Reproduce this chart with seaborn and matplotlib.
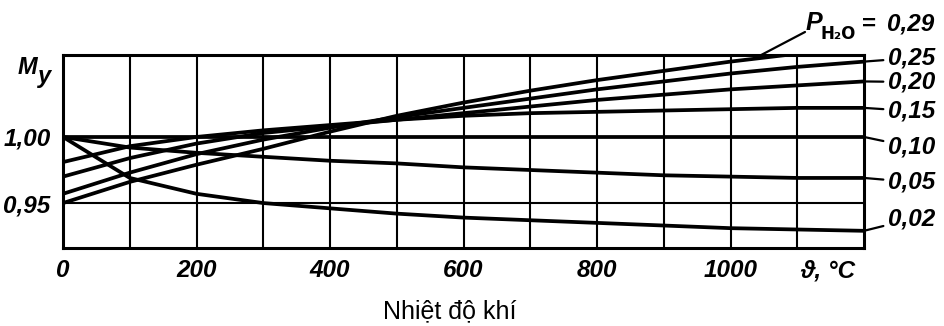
import numpy as np
import pandas as pd
import matplotlib
matplotlib.use("Agg")
import matplotlib.pyplot as plt
import seaborn as sns

# ---- data ----
temperature = [0, 100, 200, 300, 400, 500, 600, 700, 800, 900, 1000, 1100, 1200]
p_labels = ["0,02", "0,05", "0,10", "0,15", "0,20", "0,25", "0,29"]
my_002 = [1.000, 0.969, 0.957, 0.950, 0.946, 0.942, 0.939, 0.937, 0.935, 0.933, 0.931, 0.930, 0.929]
my_005 = [1.000, 0.992, 0.988, 0.985, 0.982, 0.980, 0.977, 0.975, 0.973, 0.971, 0.970, 0.969, 0.969]
my_010 = [1.000, 1.000, 1.000, 1.000, 1.000, 1.000, 1.000, 1.000, 1.000, 1.000, 1.000, 1.000, 1.000]
my_015 = [0.981, 0.993, 1.000, 1.005, 1.009, 1.013, 1.016, 1.018, 1.019, 1.020, 1.021, 1.022, 1.022]
my_020 = [0.970, 0.984, 0.995, 1.003, 1.008, 1.013, 1.018, 1.023, 1.028, 1.032, 1.036, 1.039, 1.042]
my_025 = [0.957, 0.973, 0.987, 0.998, 1.007, 1.015, 1.022, 1.029, 1.036, 1.042, 1.048, 1.053, 1.057]
my_029 = [0.950, 0.966, 0.979, 0.991, 1.004, 1.016, 1.026, 1.035, 1.043, 1.050, 1.057, 1.063, 1.068]
x_tick_values = [0, 200, 400, 600, 800, 1000]
x_tick_labels = ["0", "200", "400", "600", "800", "1000"]
x_grid_values = [100, 200, 300, 400, 500, 600, 700, 800, 900, 1000, 1100]
y_tick_values = [0.95, 1.00]
y_tick_labels = ["0,95", "1,00"]

series = [my_002, my_005, my_010, my_015, my_020, my_025, my_029]
df = pd.concat(
    [pd.DataFrame({"t": temperature, "M": s, "P": lab}) for s, lab in zip(series, p_labels)],
    ignore_index=True,
)

sns.set_style("white")
FAM = ["Liberation Sans", "DejaVu Sans"]
plt.rcParams["font.family"] = FAM
plt.rcParams["text.color"] = "black"
plt.rcParams["xtick.color"] = "black"
plt.rcParams["ytick.color"] = "black"

W, H = 944, 326
fig = plt.figure(figsize=(W / 100, H / 100), dpi=100)
ax = fig.add_axes([63 / W, 1 - 248 / H, (864 - 63) / W, (248 - 55) / H])

sns.lineplot(data=df, x="t", y="M", hue="P", palette=["black"] * len(p_labels),
             linewidth=2.7, legend=False, ax=ax, zorder=3)

ax.set_xlim(0, 1200)
ax.set_ylim(0.916, 1.062)

# grid: vertical every 100, horizontal at labelled values
for gx in x_grid_values:
    ax.axvline(gx, color="black", linewidth=1.5, zorder=2)
ax.set_xticks(x_tick_values + [1145])
ax.set_xticklabels(x_tick_labels + ["ϑ, °C"])
ax.set_yticks(y_tick_values)
ax.set_yticklabels(y_tick_labels)
ax.grid(True, which="major", axis="y", color="black", linewidth=1.5)
ax.tick_params(axis="both", which="both", length=0)
ax.tick_params(axis="x", pad=8)
ax.tick_params(axis="y", pad=9)
for lab in ax.get_xticklabels() + ax.get_yticklabels():
    lab.set_fontsize(17.5)
    lab.set_fontstyle("italic")
    lab.set_fontweight("bold")
    lab.set_family(FAM)
    lab.set_color("black")
for sp in ax.spines.values():
    sp.set_color("black")
    sp.set_linewidth(2.2)
ax.set_xlabel("")
ax.set_ylabel("")

# axis titles
fig.text(450 / W, 1 - 311 / H, "Nhiệt độ khí", ha="center", va="center",
         fontsize=18, family=FAM, color="black")
fig.text(27 / W, 1 - 68 / H, "M", ha="center", va="center", fontsize=17,
         fontstyle="italic", fontweight="bold", family=FAM)
fig.text(45 / W, 1 - 76 / H, "y", ha="center", va="center", fontsize=17,
         fontstyle="italic", fontweight="bold", family=FAM)

# right-hand curve labels with leader strokes
text_y = {"0,25": 58, "0,20": 82, "0,15": 111, "0,10": 147, "0,05": 182, "0,02": 219}
lab_kw = dict(fontsize=17.5, fontstyle="italic", fontweight="bold", family=FAM,
              ha="left", va="center", color="black")
for s, lab in zip(series, p_labels):
    if lab in text_y:
        ax.annotate(lab, xy=(temperature[-1], s[-1]), xycoords="data",
                    xytext=(888, H - text_y[lab]), textcoords="figure pixels",
                    arrowprops=dict(arrowstyle="-", color="black", lw=1.6,
                                    shrinkA=1, shrinkB=1),
                    annotation_clip=False, **lab_kw)

# P_H2O = 0,29 label with its leader to the top curve
x_lead = 1035
ax.annotate("", xy=(x_lead, min(np.interp(x_lead, temperature, my_029), 1.061)),
            xycoords="data", xytext=(805, H - 32), textcoords="figure pixels",
            arrowprops=dict(arrowstyle="-", color="black", lw=1.6, shrinkA=0, shrinkB=0),
            annotation_clip=False)
fig.text(806 / W, 1 - 23 / H, "P", fontsize=18, fontstyle="italic", fontweight="bold",
         family=FAM, ha="left", va="center")
fig.text(820 / W, 1 - 34 / H, "H₂O", fontsize=12, fontweight="bold",
         family=["DejaVu Sans"], ha="left", va="center")
fig.text(862 / W, 1 - 24 / H, "=", fontsize=17.5, fontweight="bold",
         family=FAM, ha="left", va="center")
fig.text(887 / W, 1 - 24 / H, "0,29", fontsize=17.5, fontstyle="italic", fontweight="bold",
         family=FAM, ha="left", va="center")

fig.savefig("out.png", dpi=100)
